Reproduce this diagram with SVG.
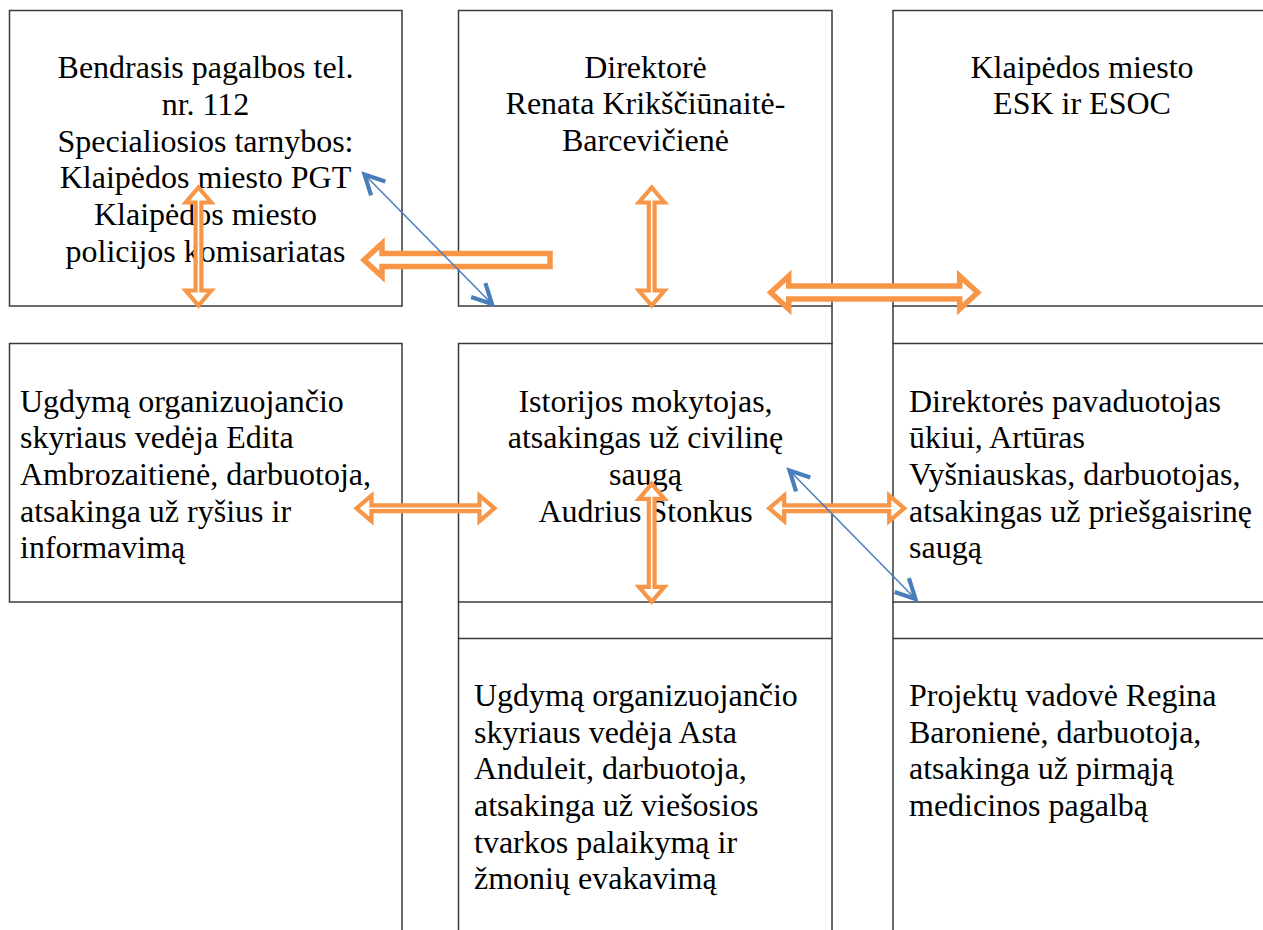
<svg xmlns="http://www.w3.org/2000/svg" width="1263" height="930" viewBox="0 0 1263 930">
<style>
.box{fill:none;stroke:#3a3a3a;stroke-width:1.5}
.grid{stroke:#3a3a3a;stroke-width:1.5;fill:none}
text{font-family:"Liberation Serif","Times New Roman",serif;font-size:32px;fill:#000}
.c{text-anchor:middle}
.oa{fill:#fff;stroke:#F79646;stroke-width:4.2;stroke-linejoin:miter}
.ob{fill:#fff;stroke:#F79646;stroke-width:5.5;stroke-linejoin:miter}
.bl{stroke:#4A7EBB;stroke-width:1.5;fill:none;marker-start:url(#chev);marker-end:url(#chev)}
</style>
<defs>
<marker id="chev" viewBox="-26 -14 30 28" markerWidth="30" markerHeight="28" refX="0" refY="0" orient="auto-start-reverse" markerUnits="userSpaceOnUse">
<path d="M-21,-10 L-1.5,0 L-21,10" fill="none" stroke="#4A7EBB" stroke-width="4.2"/>
</marker>
<path id="vsmall" d="M0,-59 L12.8,-44 L2.9,-44 L2.9,44 L12.8,44 L0,59 L-12.8,44 L-2.9,44 L-2.9,-44 L-12.8,-44 Z"/>
</defs>
<rect width="1263" height="930" fill="#fff"/>

<g id="grid">
<line class="grid" x1="832" y1="306" x2="832" y2="344"/>
<line class="grid" x1="893" y1="306" x2="893" y2="344"/>
<line class="grid" x1="832" y1="602" x2="832" y2="638"/>
<line class="grid" x1="893" y1="602" x2="893" y2="638"/>
<line class="grid" x1="458.5" y1="602" x2="458.5" y2="638"/>
<line class="grid" x1="402" y1="602" x2="402" y2="931"/>
</g>

<g id="node-112">
<rect class="box" x="9.5" y="10.5" width="392.5" height="295.5"/>
<text class="c" x="205.5" y="78.3">Bendrasis pagalbos tel.</text>
<text class="c" x="205.5" y="115">nr. 112</text>
<text class="c" x="205.5" y="151.7">Specialiosios tarnybos:</text>
<text class="c" x="205.5" y="188.3">Klaipėdos miesto PGT</text>
<text class="c" x="205.5" y="225">Klaipėdos miesto</text>
<text class="c" x="205.5" y="261.7">policijos komisariatas</text>
</g>

<g id="node-direktore">
<rect class="box" x="458.5" y="10.5" width="373.5" height="295.5"/>
<text class="c" x="645.5" y="77.7">Direktorė</text>
<text class="c" x="645.5" y="114.3">Renata Krikščiūnaitė-</text>
<text class="c" x="645.5" y="151">Barcevičienė</text>
</g>

<g id="node-esk">
<rect class="box" x="893" y="10.5" width="400" height="295.5"/>
<text class="c" x="1082" y="77.7">Klaipėdos miesto</text>
<text class="c" x="1082" y="114.3">ESK ir ESOC</text>
</g>

<g id="node-rysiai">
<rect class="box" x="9.5" y="343.5" width="392.5" height="258.5"/>
<text x="20" y="411.7">Ugdymą organizuojančio</text>
<text x="20" y="448.3">skyriaus vedėja Edita</text>
<text x="20" y="485">Ambrozaitienė, darbuotoja,</text>
<text x="20" y="521.7">atsakinga už ryšius ir</text>
<text x="20" y="558.3">informavimą</text>
</g>

<g id="node-civiline">
<rect class="box" x="458.5" y="343.5" width="373.5" height="258.5"/>
<text class="c" x="645.5" y="411.7">Istorijos mokytojas,</text>
<text class="c" x="645.5" y="448.3">atsakingas už civilinę</text>
<text class="c" x="645.5" y="485">saugą</text>
<text class="c" x="645.5" y="521.7">Audrius Stonkus</text>
</g>

<g id="node-priesgaisrine">
<rect class="box" x="893" y="343.5" width="400" height="258.5"/>
<text x="909" y="411.7">Direktorės pavaduotojas</text>
<text x="909" y="448.3">ūkiui, Artūras</text>
<text x="909" y="485">Vyšniauskas, darbuotojas,</text>
<text x="909" y="521.7">atsakingas už priešgaisrinę</text>
<text x="909" y="558.3">saugą</text>
</g>

<g id="node-evakavimas">
<rect class="box" x="458.5" y="638.5" width="373.5" height="300"/>
<text x="474" y="706">Ugdymą organizuojančio</text>
<text x="474" y="742.7">skyriaus vedėja Asta</text>
<text x="474" y="779.3">Anduleit, darbuotoja,</text>
<text x="474" y="816">atsakinga už viešosios</text>
<text x="474" y="852.7">tvarkos palaikymą ir</text>
<text x="474" y="889.3">žmonių evakavimą</text>
</g>

<g id="node-medicina">
<rect class="box" x="893" y="638.5" width="400" height="300"/>
<text x="909" y="706">Projektų vadovė Regina</text>
<text x="909" y="742.7">Baronienė, darbuotoja,</text>
<text x="909" y="779.3">atsakinga už pirmąją</text>
<text x="909" y="816">medicinos pagalbą</text>
</g>

<g id="connectors">
<use href="#vsmall" class="oa" transform="translate(198.5,246.5)"/>
<use href="#vsmall" class="oa" transform="translate(651.7,246.5)"/>
<use href="#vsmall" class="oa" transform="translate(651.7,542.8)"/>
<path class="oa" d="M356.5,508.3 L371.5,495.5 L371.5,505.4 L479.5,505.4 L479.5,495.5 L494.5,508.3 L479.5,521.1 L479.5,511.2 L371.5,511.2 L371.5,521.1 Z"/>
<path class="oa" d="M769.2,508.3 L784.2,495.5 L784.2,505.4 L889.2,505.4 L889.2,495.5 L904.2,508.3 L889.2,521.1 L889.2,511.2 L784.2,511.2 L784.2,521.1 Z"/>
<path class="ob" d="M364,260 L382,243.5 L382,253.5 L550,253.5 L550,266.5 L382,266.5 L382,276.5 Z"/>
<path class="ob" d="M770.7,292.5 L788.7,276 L788.7,286 L959.7,286 L959.7,276 L977.7,292.5 L959.7,309 L959.7,299 L788.7,299 L788.7,309 Z"/>
<line class="bl" x1="363.5" y1="173.5" x2="493" y2="305"/>
<line class="bl" x1="788.5" y1="469.5" x2="916.5" y2="600"/>
</g>
</svg>
